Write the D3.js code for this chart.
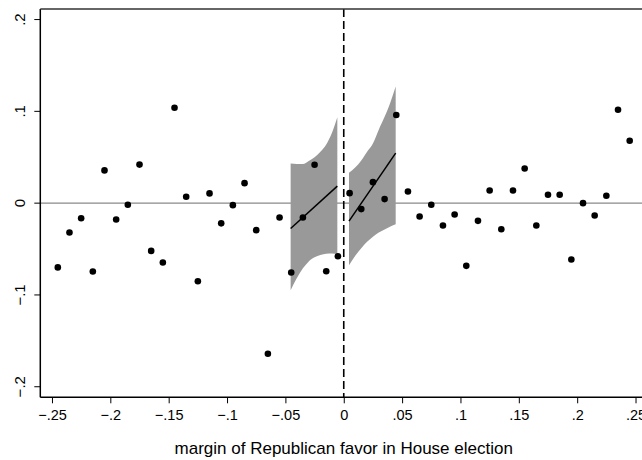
<!DOCTYPE html>
<html>
<head>
    <title>RD plot</title>
    <script src="https://d3js.org/d3.v7.min.js"></script>
    <style>
        body { margin: 0; background: #fff; }
        text { font-family: "Liberation Sans", Arial, sans-serif; fill: #000; }
        .zero { stroke: #8a8a8a; stroke-width: 1.4px; }
        .band { fill: #999; stroke: none; }
        .fit { fill: none; stroke: #000; stroke-width: 1.5px; }
        .cut { stroke: #000; stroke-width: 1.6px; stroke-dasharray: 8 4; }
    </style>
</head>
<body>
    <script>
        // bin centers and binned means
        var binX = [-0.245, -0.235, -0.225, -0.215, -0.205, -0.195, -0.185, -0.175, -0.165, -0.155,
                    -0.145, -0.135, -0.125, -0.115, -0.105, -0.095, -0.085, -0.075, -0.065, -0.055,
                    -0.045, -0.035, -0.025, -0.015, -0.005, 0.005, 0.015, 0.025, 0.035, 0.045,
                    0.055, 0.065, 0.075, 0.085, 0.095, 0.105, 0.115, 0.125, 0.135, 0.145,
                    0.155, 0.165, 0.175, 0.185, 0.195, 0.205, 0.215, 0.225, 0.235, 0.245];
        var binY = [-0.070, -0.032, -0.0164, -0.0745, 0.0357, -0.0178, -0.0018, 0.042, -0.052, -0.0647,
                    0.104, 0.0069, -0.085, 0.0106, -0.022, -0.0022, 0.0218, -0.0294, -0.164, -0.0156,
                    -0.0756, -0.0156, 0.0418, -0.0742, -0.0578, 0.0109, -0.0065, 0.0229, 0.0044, 0.096,
                    0.0127, -0.0145, -0.0018, -0.0243, -0.0123, -0.0683, -0.0193, 0.0138, -0.0284, 0.0138,
                    0.0378, -0.0243, 0.0091, 0.0091, -0.0614, 0.0, -0.0134, 0.008, 0.1017, 0.068];

        // fitted lines
        var fitLeftX = [-0.0455, -0.0055];
        var fitLeftY = [-0.0276, 0.0185];
        var fitRightX = [0.0045, 0.0445];
        var fitRightY = [-0.0196, 0.0545];

        // confidence bands
        var bandLeftX = [-0.0455, -0.035, -0.03, -0.025, -0.02, -0.015, -0.01, -0.0055];
        var bandLeftUp = [0.0433, 0.0426, 0.046, 0.050, 0.056, 0.064, 0.077, 0.0935];
        var bandLeftLo = [-0.0949, -0.071, -0.0635, -0.059, -0.0565, -0.055, -0.0548, -0.0555];
        var bandRightX = [0.0045, 0.01, 0.015, 0.02, 0.025, 0.03, 0.035, 0.04, 0.0445];
        var bandRightUp = [0.033, 0.039, 0.0465, 0.056, 0.065, 0.080, 0.094, 0.110, 0.127];
        var bandRightLo = [-0.0676, -0.057, -0.049, -0.042, -0.0365, -0.032, -0.0287, -0.0255, -0.023];

        var xTicks = [-0.25, -0.2, -0.15, -0.1, -0.05, 0, 0.05, 0.1, 0.15, 0.2, 0.25];
        var xTickLabels = ["\u2212.25", "\u2212.2", "\u2212.15", "\u2212.1", "\u2212.05", "0", ".05", ".1", ".15", ".2", ".25"];
        var yTicks = [-0.2, -0.1, 0, 0.1, 0.2];
        var yTickLabels = ["\u2212.2", "\u2212.1", "0", ".1", ".2"];
        var xTitle = "margin of Republican favor in House election";

        var width = 642, height = 460;

        var svg = d3.select("body").append("svg")
            .attr("width", width)
            .attr("height", height);

        var x = d3.scaleLinear().domain([-0.26, 0.26]).range([40.3, 647.2]);
        var y = d3.scaleLinear().domain([-0.2115, 0.2115]).range([397.3, 9]);

        // zero reference line
        svg.append("line")
            .attr("class", "zero")
            .attr("x1", x(-0.26)).attr("x2", x(0.26))
            .attr("y1", y(0)).attr("y2", y(0));

        // bands
        function drawBand(xs, up, lo) {
            var rows = xs.map((v, i) => ({ x: v, up: up[i], lo: lo[i] }));
            svg.append("path")
                .datum(rows)
                .attr("class", "band")
                .attr("d", d3.area()
                    .x(d => x(d.x))
                    .y0(d => y(d.lo))
                    .y1(d => y(d.up))
                    .curve(d3.curveMonotoneX));
        }
        drawBand(bandLeftX, bandLeftUp, bandLeftLo);
        drawBand(bandRightX, bandRightUp, bandRightLo);

        // fit lines
        function drawFit(xs, ys) {
            svg.append("path")
                .datum(xs.map((v, i) => [v, ys[i]]))
                .attr("class", "fit")
                .attr("d", d3.line().x(d => x(d[0])).y(d => y(d[1])));
        }
        drawFit(fitLeftX, fitLeftY);
        drawFit(fitRightX, fitRightY);

        // cutoff
        svg.append("line")
            .attr("class", "cut")
            .attr("x1", x(0)).attr("x2", x(0))
            .attr("y1", y(0.2115)).attr("y2", y(-0.2115));

        // bin means
        svg.selectAll(".dot")
            .data(binX.map((v, i) => [v, binY[i]]))
            .enter()
            .append("circle")
            .attr("class", "dot")
            .attr("cx", d => x(d[0]))
            .attr("cy", d => y(d[1]))
            .attr("r", 3.3)
            .style("fill", "#000");

        // axes
        var xAxis = svg.append("g")
            .attr("transform", "translate(0," + y(-0.2115) + ")")
            .call(d3.axisBottom(x).tickValues(xTicks)
                .tickFormat((d, i) => xTickLabels[i])
                .tickSize(6).tickPadding(6));
        xAxis.select(".domain").attr("d", "M" + x(-0.26) + ",0H" + x(0.26)).style("stroke-width", "1.5px");
        xAxis.selectAll("text").style("font-size", "14.5px").style("font-family", "Liberation Sans, Arial, sans-serif");

        var yAxis = svg.append("g")
            .attr("transform", "translate(" + x(-0.26) + ",0)")
            .call(d3.axisLeft(y).tickValues(yTicks)
                .tickFormat((d, i) => yTickLabels[i])
                .tickSize(6));
        yAxis.select(".domain").attr("d", "M0," + y(-0.2115) + "V" + y(0.2115)).style("stroke-width", "1.5px");
        yAxis.selectAll("text")
            .style("font-size", "15px")
            .style("font-family", "Liberation Sans, Arial, sans-serif")
            .attr("text-anchor", "middle")
            .attr("x", 0).attr("dy", 0)
            .attr("transform", d => "translate(-15," + y(d) + ") rotate(-90)")
            .attr("y", 0);
        yAxis.selectAll(".tick").attr("transform", null);
        yAxis.selectAll(".tick line").attr("y1", d => y(d)).attr("y2", d => y(d));

        // top frame line
        svg.append("line")
            .attr("x1", x(-0.26)).attr("x2", x(0.26))
            .attr("y1", y(0.2115)).attr("y2", y(0.2115))
            .style("stroke", "#333").style("stroke-width", "1.5px");

        svg.append("text")
            .attr("x", x(0))
            .attr("y", 454)
            .attr("text-anchor", "middle")
            .style("font-size", "17px")
            .text(xTitle);
    </script>
</body>
</html>
